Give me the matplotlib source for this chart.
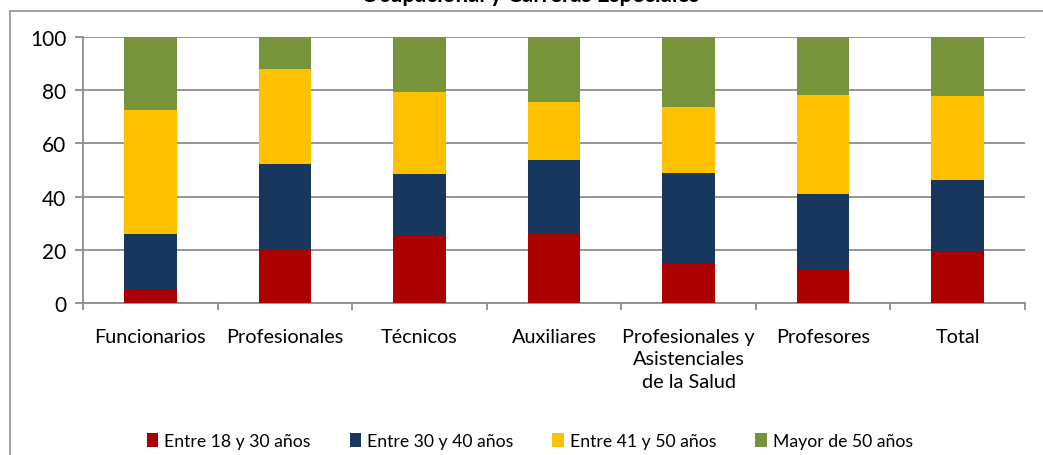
import matplotlib.pyplot as plt
import numpy as np
from matplotlib.patches import Patch

plt.rcParams['font.family'] = ['Lato', 'DejaVu Sans']

# datos (porcentajes por grupo de edad)
categorias = ['Funcionarios', 'Profesionales', 'Técnicos', 'Auxiliares',
              'Profesionales y\nAsistenciales\nde la Salud', 'Profesores', 'Total']
edad_18_30 = [5.1, 20.4, 25.2, 25.9, 15.2, 12.5, 19.3]
edad_30_40 = [20.8, 31.9, 23.3, 27.9, 33.7, 28.5, 26.8]
edad_41_50 = [46.8, 35.5, 30.8, 21.8, 24.8, 37.2, 31.6]
mayor_50 = [27.3, 12.2, 20.7, 24.4, 26.3, 21.8, 22.3]

series = [edad_18_30, edad_30_40, edad_41_50, mayor_50]
nombres = ['Entre 18 y 30 años', 'Entre 30 y 40 años', 'Entre 41 y 50 años', 'Mayor de 50 años']
colores = ['#AA0000', '#17375E', '#FFC000', '#77933C']

fig = plt.figure(figsize=(10.43, 4.56), dpi=100)
ax = fig.add_axes([0.0796, 0.3333, 0.9031, 0.5834])

x = np.arange(len(categorias))
base = np.zeros(len(categorias))
for valores, color in zip(series, colores):
    ax.bar(x, valores, width=0.39, bottom=base, color=color, zorder=3)
    base = base + np.array(valores)

ax.set_xlim(-0.5, len(categorias) - 0.5)
ax.set_ylim(0, 100)
ax.set_yticks(range(0, 101, 20))
ax.yaxis.grid(True, color='#8c8c8c', linewidth=1.3, zorder=0)
ax.set_axisbelow(True)

# ticks de categorias en los limites
ax.set_xticks(np.arange(-0.5, len(categorias), 1.0))
ax.set_xticklabels([])
ax.set_xticks(x, minor=True)
ax.set_xticklabels(categorias, minor=True, fontsize=14.3, linespacing=1.38)
ax.tick_params(axis='x', which='minor', length=0, pad=18)
ax.tick_params(axis='x', which='major', length=5, color='#8c8c8c', width=1.3)
ax.tick_params(axis='y', length=6, color='#8c8c8c', width=1.3, labelsize=15, pad=6)

for lado in ['top', 'right']:
    ax.spines[lado].set_visible(False)
for lado in ['left', 'bottom']:
    ax.spines[lado].set_color('#8c8c8c')
    ax.spines[lado].set_linewidth(1.3)

# borde del grafico y titulo cortado
fig.add_artist(plt.Line2D([10 / 1043, 1.0], [1 - 12 / 456, 1 - 12 / 456],
                          transform=fig.transFigure, color='#9a9a9a', linewidth=1.3))
fig.add_artist(plt.Line2D([10 / 1043, 10 / 1043], [0, 1 - 12 / 456],
                          transform=fig.transFigure, color='#9a9a9a', linewidth=1.3))
fig.text(0.508, 1 - 6 / 456, 'Ocupacional y Carreras Especiales', ha='center', va='bottom',
         fontsize=16, fontweight='bold')

handles = [Patch(facecolor=c, label=n) for c, n in zip(colores, nombres)]
fig.legend(handles=handles, loc='center', bbox_to_anchor=(0.508, 1 - 442 / 456), ncol=4,
           frameon=False, fontsize=12.7, handlelength=0.65, handleheight=0.9,
           handletextpad=0.35, columnspacing=2.2)

plt.savefig('out.png', dpi=100)
